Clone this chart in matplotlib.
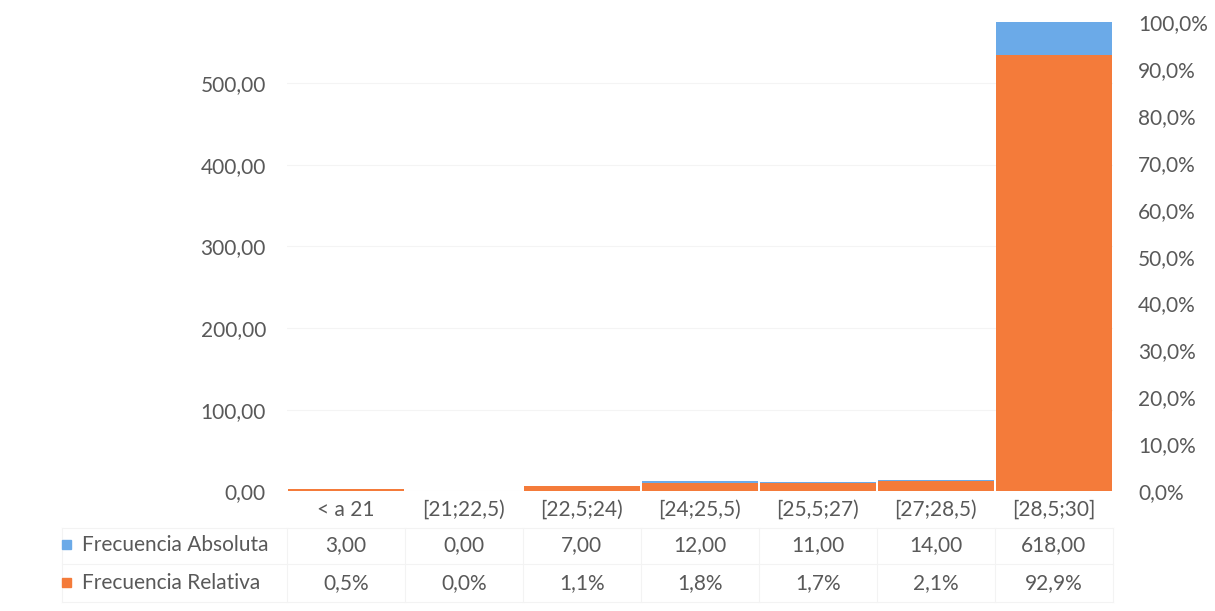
import numpy as np
import matplotlib.pyplot as plt
from matplotlib.ticker import FuncFormatter, MultipleLocator
from matplotlib.patches import Rectangle

# Data
categorias = ['< a 21', '[21;22,5)', '[22,5;24)', '[24;25,5)', '[25,5;27)', '[27;28,5)', '[28,5;30]']
frec_absoluta = [3, 0, 7, 12, 11, 14, 618]
frec_relativa = [0.5, 0.0, 1.1, 1.8, 1.7, 2.1, 92.9]

azul = '#6BAAE8'
naranja = '#F47B3A'
gris = '#595959'
fs = 15

plt.rcParams['font.family'] = ['Lato', 'DejaVu Sans']

fig = plt.figure(figsize=(12.15, 6.11), dpi=100)
ax = fig.add_axes([0.236, 0.196, 0.680, 0.768])
ax2 = ax.twinx()

x = np.arange(len(categorias))
ax.bar(x, frec_absoluta, width=0.985, color=azul, zorder=2)
ax2.bar(x, frec_relativa, width=0.985, color=naranja, zorder=2)

ax.set_xlim(-0.5, len(categorias) - 0.5)
ax.set_ylim(0, 575)
ax2.set_ylim(0, 100)
ax.yaxis.set_major_locator(MultipleLocator(100))
ax2.yaxis.set_major_locator(MultipleLocator(10))
ax.yaxis.set_major_formatter(FuncFormatter(lambda v, p: f'{v:.2f}'.replace('.', ',')))
ax2.yaxis.set_major_formatter(FuncFormatter(lambda v, p: f'{v:.1f}%'.replace('.', ',')))

ax.grid(axis='y', color='#f4f4f4', linewidth=0.8, zorder=0)
for a in (ax, ax2):
    for s in a.spines.values():
        s.set_visible(False)
    a.tick_params(length=0, labelsize=fs, labelcolor=gris)
ax.tick_params(axis='y', pad=15)
ax2.tick_params(axis='y', pad=18)
ax.set_xticks([])

# data table below the plot
trans = ax.get_xaxis_transform()
filas = [(-0.04, categorias),
         (-0.115, [f'{v:.2f}'.replace('.', ',') for v in frec_absoluta]),
         (-0.196, [f'{v:.1f}%'.replace('.', ',') for v in frec_relativa])]
for yy, textos in filas:
    for xi, t in zip(x, textos):
        ax.text(xi, yy, t, transform=trans, ha='center', va='center',
                fontsize=fs, color=gris, clip_on=False)

# table borders (very faint)
linea = '#f3f3f3'
for yy in (-0.078, -0.155, -0.236):
    ax.plot([-0.5 - 1.9, len(categorias) - 0.5], [yy, yy], transform=trans,
            color=linea, lw=0.8, clip_on=False)
for xb in np.arange(-0.5, len(categorias), 1.0):
    ax.plot([xb, xb], [-0.078, -0.236], transform=trans, color=linea, lw=0.8, clip_on=False)
ax.plot([-2.4, -2.4], [-0.078, -0.236], transform=trans, color=linea, lw=0.8, clip_on=False)

# legend keys in the table
for yy, col, nombre in [(-0.115, azul, 'Frecuencia Absoluta'),
                        (-0.196, naranja, 'Frecuencia Relativa')]:
    fig.patches.append(Rectangle((62 / 1215, 1 - (491 - yy * 469 + 4.5) / 611),
                                 9 / 1215, 9 / 611, transform=fig.transFigure,
                                 color=col))
    ax.text(82 / 1215, 1 - (491 - yy * 469) / 611, nombre, transform=fig.transFigure,
            ha='left', va='center', fontsize=fs, color=gris)

fig.savefig('out.png', dpi=100, facecolor='white')
